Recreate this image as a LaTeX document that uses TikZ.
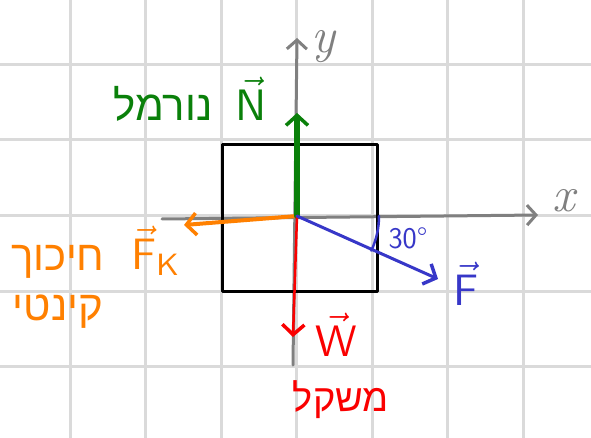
\documentclass[tikz,border=0pt]{standalone}
\usepackage{fontspec}
\newfontfamily\hebfont[Script=Hebrew]{Liberation Sans}
\TeXXeTstate=1
\usetikzlibrary{arrows.meta}
\definecolor{gridc}{RGB}{218,218,218}
\definecolor{axisc}{RGB}{128,128,128}
\definecolor{ngreen}{RGB}{10,128,10}
\definecolor{forange}{RGB}{255,128,0}
\definecolor{wred}{RGB}{250,0,0}
\definecolor{fblue}{RGB}{55,55,200}
\newcommand\vlabel[1]{\scalebox{4.4}{$#1$}}
\tikzset{
  gridline/.style={gridc, line width=3pt},
  axis/.style={axisc, line width=3pt, -{Straight Barb[length=9pt,width=20pt,line width=3pt]}},
  force/.style={line width=4pt, -{Straight Barb[length=10pt,width=22pt,line width=3.5pt]}},
  boxstyle/.style={draw=black, line width=3pt, minimum width=155pt, minimum height=146pt, inner sep=0pt},
  heb/.style={font=\hebfont\fontsize{42}{46}\selectfont, inner sep=0pt},
  vlab/.style={inner sep=0pt},
  axlab/.style={axisc, font=\itshape\fontsize{50}{54}\selectfont, inner sep=0pt}
}
\begin{document}
\begin{tikzpicture}[x=1pt,y=-1pt, line cap=round, line join=round]
\useasboundingbox[fill=white] (0,0) rectangle (591,438);
% grid
\foreach \gx in {70,145.5,221,296.5,372,447.5,523}
  \draw[gridline] (\gx,0) -- (\gx,438);
\foreach \gy in {64.5,140,215.5,291,366.5}
  \draw[gridline] (0,\gy) -- (591,\gy);
% axes
\coordinate (O) at (297,216);
\coordinate (xs) at (162,219);
\coordinate (xe) at (538,215);
\coordinate (ys) at (293,365);
\coordinate (ye) at (297,38);
\draw[axis] (xs) -- (xe);
\draw[axis] (ys) -- (ye);
\node[axlab] (xl) at (564,201) {x};
\node[axlab] (yl) at (323,47) {y};
% box
\node[boxstyle] (box) at (299.5,218) {};
% forces
\coordinate (Fk) at (184,225);
\coordinate (Nt) at (297,113);
\coordinate (Wt) at (293,337);
\coordinate (Ft) at (438,279);
\draw[force, forange] (O) -- (Fk);
\draw[force, ngreen, line width=6pt] (O) -- (Nt);
\draw[force, wred, line width=2.5pt] (O) -- (Wt);
\draw[force, fblue, line width=3pt] (O) -- (Ft);
% angle
\draw[fblue, line width=2.5pt] (O) ++(0:82) arc[start angle=0, end angle=25, radius=82];
\node[fblue, font=\sffamily\fontsize{30}{32}\selectfont, inner sep=0pt] (ang) at (408,238) {30°};
% labels
\node[vlab, ngreen] (Nlab) at (251,99) {\vlabel{\vec{\mathsf{N}}}};
\node[heb, ngreen] (Nheb) at (163,104) {\beginR נורמל\endR};
\node[vlab, forange] (Fklab) at (156,251) {\vlabel{\vec{\mathsf{F}}_{\mathsf{K}}}};
\node[heb, forange, align=center, font=\hebfont\fontsize{42}{50}\selectfont] (Fkheb) at (58,287) {\beginR חיכוך\endR\\\beginR קינטי\endR};
\node[vlab, wred] (Wlab) at (336,335) {\vlabel{\vec{\mathsf{W}}}};
\node[heb, wred, font=\hebfont\fontsize{38}{42}\selectfont] (Wheb) at (341,400) {\beginR משקל\endR};
\node[vlab, fblue] (Flab) at (466,284) {\vlabel{\vec{\mathsf{F}}}};
\end{tikzpicture}
\end{document}
